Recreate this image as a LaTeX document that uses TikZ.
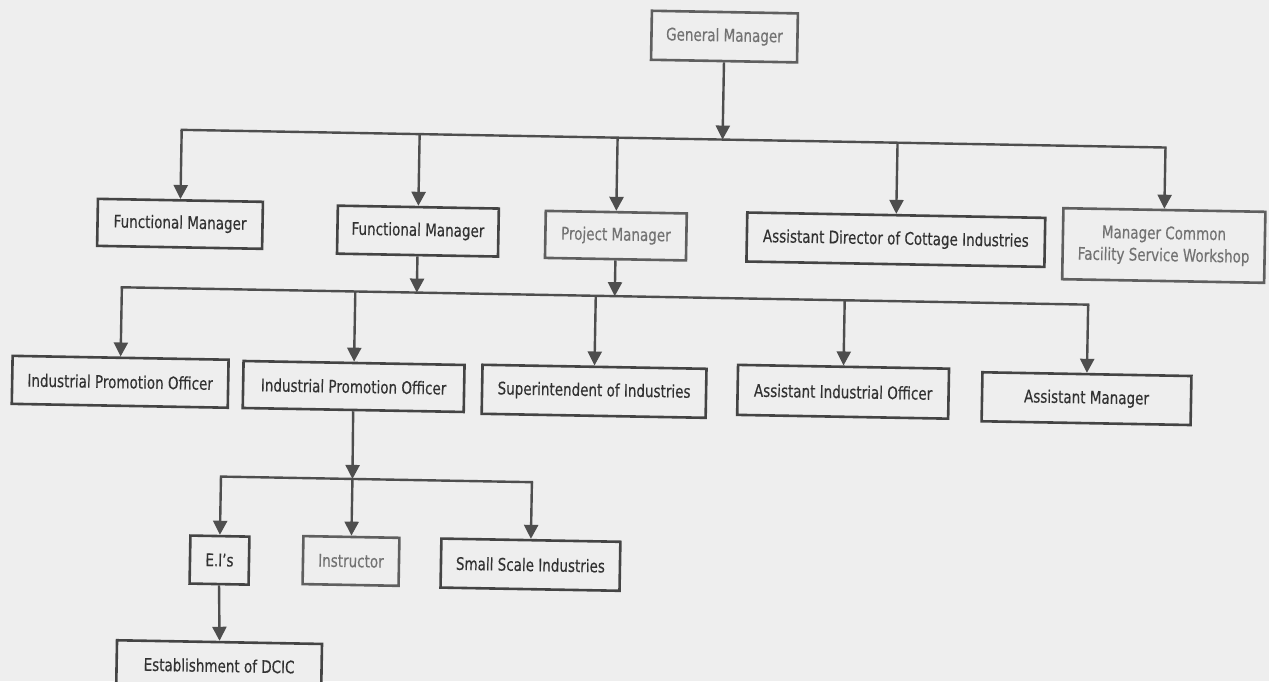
\documentclass[tikz,border=0pt]{standalone}
\usepackage{fontspec}
\setmainfont{DejaVu Sans}[FakeStretch=0.78,FakeBold=0.35]
\usetikzlibrary{arrows.meta}
\definecolor{bg}{RGB}{238,238,238}
\definecolor{txtd}{RGB}{50,50,50}
\definecolor{txtl}{RGB}{115,115,115}
\definecolor{boxd}{RGB}{68,68,68}
\definecolor{boxl}{RGB}{95,95,95}
\definecolor{linec}{RGB}{78,78,78}
\begin{document}
\begin{tikzpicture}[x=1pt,y=-1pt,
  orgbox/.style={draw=boxd, line width=2.6pt, fill=bg, text=txtd, inner sep=0pt,
    align=center, font=\fontsize{17.3}{22}\selectfont},
  lightbox/.style={orgbox, draw=boxl, text=txtl},
  conn/.style={draw=linec, line width=2.4pt, line cap=rect},
  arr/.style={draw=linec, line width=2.4pt, -{Triangle[width=14pt,length=14pt]}}
]
\fill[bg] (0,0) rectangle (1269,681);
\useasboundingbox (0,0) rectangle (1269,681);
\begin{scope}[rotate around={-1.03:(634,340)}, transform shape]
% level 1
\node[lightbox, minimum width=146pt, minimum height=49pt] (gm) at (719,35) {General Manager};
% level 2
\node[orgbox, minimum width=165pt, minimum height=47pt] (fm1) at (178,232) {Functional Manager};
\node[orgbox, minimum width=161pt, minimum height=48pt] (fm2) at (416,235) {Functional Manager};
\node[lightbox, minimum width=141pt, minimum height=47pt] (pm) at (614,236) {Project Manager};
\node[orgbox, minimum width=298pt, minimum height=49pt] (ad) at (894,235) {Assistant Director of Cottage Industries};
\node[lightbox, minimum width=202pt, minimum height=71pt] (mc) at (1162,236) {Manager Common\\Facility Service Workshop};
% level 3
\node[orgbox, minimum width=216pt, minimum height=48pt] (ipo1) at (121,391) {Industrial Promotion Officer};
\node[orgbox, minimum width=221pt, minimum height=47pt] (ipo2) at (354.5,391.5) {Industrial Promotion Officer};
\node[orgbox, minimum width=224pt, minimum height=49pt] (soi) at (595,392) {Superintendent of Industries};
\node[orgbox, minimum width=211pt, minimum height=50pt] (aio) at (844,388) {Assistant Industrial Officer};
\node[orgbox, minimum width=209pt, minimum height=49pt] (am) at (1087.5,390.5) {Assistant Manager};
% level 4
\node[orgbox, minimum width=59pt, minimum height=48pt] (ei) at (223.5,567.5) {E.I's};
\node[lightbox, minimum width=96pt, minimum height=48pt] (ins) at (355,566) {Instructor};
\node[orgbox, minimum width=179pt, minimum height=49pt] (ssi) at (534.5,566.5) {Small Scale Industries};
\node[orgbox, minimum width=205pt, minimum height=47pt] (dcic) at (225,673) {Establishment of DCIC};
% junctions
\coordinate (jAg) at (719,138);
\coordinate (jA1) at (178,138);
\coordinate (jA2) at (416,138);
\coordinate (jA3) at (614,138);
\coordinate (jA4) at (894,138);
\coordinate (jA5) at (1162,138);
\coordinate (jBf) at (416,296.5);
\coordinate (jBp) at (614,296.5);
\coordinate (jB1) at (121,296.5);
\coordinate (jB2) at (354.5,296.5);
\coordinate (jB3) at (595,296.5);
\coordinate (jB4) at (844,296.5);
\coordinate (jB5) at (1087.5,296.5);
\coordinate (jCi) at (355,484);
\coordinate (jC1) at (223.5,484);
\coordinate (jC2) at (355,484);
\coordinate (jC3) at (534.5,484);
% connectors level 1 -> 2
\draw[conn] (jA1) -- (jA5);
\draw[arr] (gm.south) -- (jAg);
\draw[arr] (jA1) -- (fm1.north);
\draw[arr] (jA2) -- (fm2.north);
\draw[arr] (jA3) -- (pm.north);
\draw[arr] (jA4) -- (ad.north);
\draw[arr] (jA5) -- (mc.north);
% level 2 -> 3
\draw[conn] (jB1) -- (jB5);
\draw[arr] (fm2.south) -- (jBf);
\draw[arr] (pm.south) -- (jBp);
\draw[arr] (jB1) -- (ipo1.north);
\draw[arr] (jB2) -- (ipo2.north);
\draw[arr] (jB3) -- (soi.north);
\draw[arr] (jB4) -- (aio.north);
\draw[arr] (jB5) -- (am.north);
% level 3 -> 4
\draw[conn] (jC1) -- (jC3);
\draw[arr] (ipo2.south) -- (jCi);
\draw[arr] (jC1) -- (ei.north);
\draw[arr] (jC2) -- (ins.north);
\draw[arr] (jC3) -- (ssi.north);
\draw[arr] (ei.south) -- (dcic.north);
\end{scope}
\end{tikzpicture}
\end{document}
